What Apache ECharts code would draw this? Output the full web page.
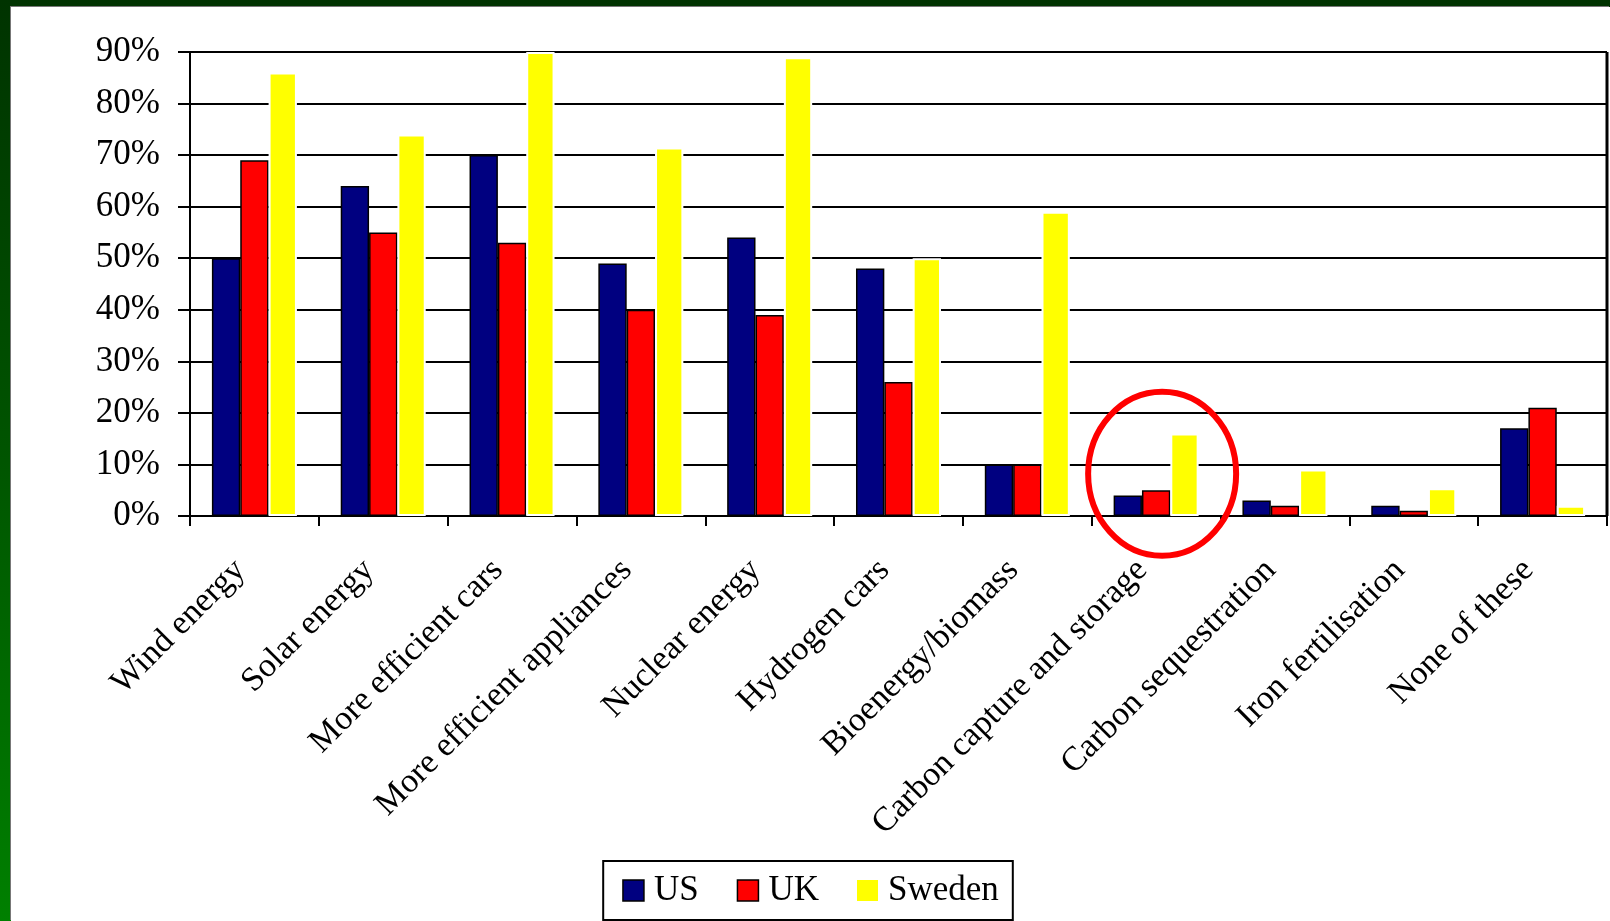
<!DOCTYPE html>
<html>
<head>
<meta charset="utf-8">
<script src="https://cdn.jsdelivr.net/npm/echarts@6/dist/echarts.min.js"></script>
<style>
html,body{margin:0;padding:0;width:1610px;height:921px;overflow:hidden;}
#frame{position:absolute;left:0;top:0;width:1610px;height:921px;background:linear-gradient(to bottom,#003300 0%,#005500 50%,#008000 100%);}
#chart{position:absolute;left:11px;top:7px;width:1599px;height:914px;background:#fff;box-shadow:-1px -1px 0 #777;}
</style>
</head>
<body>
<div id="frame"></div>
<div id="chart"></div>
<script>
const categories = ["Wind energy","Solar energy","More efficient cars","More efficient appliances","Nuclear energy","Hydrogen cars","Bioenergy/biomass","Carbon capture and storage","Carbon sequestration","Iron fertilisation","None of these"];
const us     = [50, 64, 70, 49, 54, 48, 10, 4, 3, 2, 17];
const uk     = [69, 55, 53, 40, 39, 26, 10, 5, 2, 1, 21];
const sweden = [86, 74, 90, 71.5, 89, 50, 59, 16, 9, 5.4, 2];
const seriesNames = ["US","UK","Sweden"];
const highlightCategory = "Carbon capture and storage";
const highlightLevel = 8.2;

const FONT = "'Liberation Serif','Times New Roman',serif";
const chart = echarts.init(document.getElementById('chart'));
chart.setOption({
  animation:false,
  backgroundColor:'#fff',
  grid:{left:179,right:3,top:45,bottom:405,containLabel:false,show:false},
  legend:{
    bottom:1,left:'center',
    data:[
      {name:seriesNames[0],itemStyle:{borderColor:'#000',borderWidth:1.5}},
      {name:seriesNames[1],itemStyle:{borderColor:'#000',borderWidth:1.5}},
      {name:seriesNames[2],itemStyle:{borderWidth:0}}
    ],
    itemWidth:21,itemHeight:21,itemGap:38,
    padding:[12,14,12,19],
    borderColor:'#000',borderWidth:2,
    textStyle:{fontFamily:FONT,fontSize:35,color:'#000',padding:[0,0,0,5]},
    icon:'rect'
  },
  xAxis:{
    type:'category',data:categories,
    axisLine:{lineStyle:{color:'#000',width:2}},
    axisTick:{show:true,length:10,lineStyle:{color:'#000',width:2}},
    axisLabel:{rotate:45,interval:0,margin:35,padding:[0,20,0,0],fontFamily:FONT,fontSize:34,color:'#000'},
    splitLine:{show:false}
  },
  yAxis:{
    type:'value',min:0,max:90,interval:10,
    axisLine:{show:true,lineStyle:{color:'#000',width:2}},
    axisTick:{show:true,length:12,lineStyle:{color:'#000',width:2}},
    axisLabel:{formatter:'{value}%',fontFamily:FONT,fontSize:35,color:'#000',margin:30},
    splitLine:{show:true,lineStyle:{color:'#000',width:2}}
  },
  series:[
    {name:seriesNames[0],type:'bar',data:us,barGap:'0%',barCategoryGap:'34%',
     itemStyle:{color:'#000080',borderColor:'#000',borderWidth:1.5}},
    {name:seriesNames[1],type:'bar',data:uk,
     itemStyle:{color:'#ff0000',borderColor:'#000',borderWidth:1.5}},
    {name:seriesNames[2],type:'bar',data:sweden,
     itemStyle:{color:'#ffff00',borderColor:'#fff',borderWidth:2}}
  ]
});

const topPx = chart.convertToPixel({yAxisIndex:0}, 90);
const botPx = chart.convertToPixel({yAxisIndex:0}, 0);
const c = chart.convertToPixel({xAxisIndex:0}, highlightCategory);
const cy = chart.convertToPixel({yAxisIndex:0}, highlightLevel);
chart.setOption({
  graphic:[
    {type:'line',shape:{x1:1596,y1:topPx,x2:1596,y2:botPx},style:{stroke:'#000',lineWidth:3},z:10},
    {type:'ellipse',shape:{cx:c+6,cy:cy,rx:74,ry:82},style:{fill:null,stroke:'#ff0000',lineWidth:6},z:20}
  ]
});
</script>
</body>
</html>
